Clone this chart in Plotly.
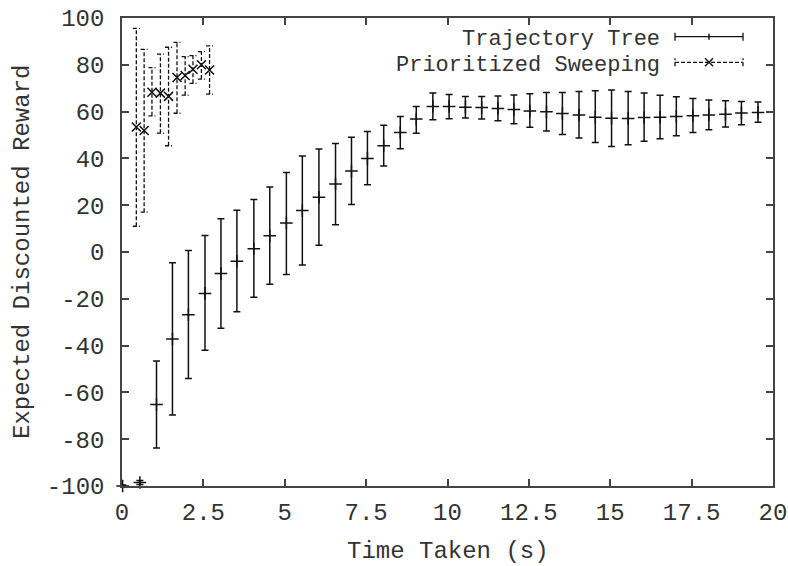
import plotly.graph_objects as go

# ---------------- data ----------------
tt_time = [0.02, 0.55, 1.06, 1.55, 2.04, 2.55, 3.04, 3.53, 4.05, 4.54,
           5.05, 5.54, 6.05, 6.56, 7.05, 7.54, 8.04, 8.55, 9.04, 9.55,
           10.05, 10.55, 11.05, 11.55, 12.04, 12.53, 13.04, 13.53, 14.04, 14.54,
           15.04, 15.55, 16.04, 16.53, 17.03, 17.54, 18.03, 18.54, 19.03, 19.54]
tt_mean = [-100.0, -98.5, -65.2, -37.2, -26.8, -17.7, -9.2, -3.9, 1.4, 6.9,
           12.4, 17.7, 23.4, 29.1, 34.6, 40.0, 45.4, 51.1, 56.8, 62.2,
           62.2, 61.9, 61.7, 61.3, 60.9, 60.3, 59.9, 59.2, 58.5, 57.6,
           57.2, 57.1, 57.5, 57.6, 57.9, 58.2, 58.6, 58.9, 59.4, 59.6]
tt_high = [-99.6, -97.6, -46.6, -4.6, 0.6, 7.0, 14.2, 17.8, 22.4, 27.8,
           34.0, 41.0, 44.0, 46.4, 49.0, 51.5, 54.2, 57.9, 62.2, 67.9,
           67.3, 66.4, 66.4, 66.7, 67.1, 67.6, 68.2, 68.2, 68.6, 68.9,
           69.2, 68.6, 67.9, 67.0, 66.3, 65.6, 65.0, 64.6, 64.3, 64.1]
tt_low = [-100.4, -99.4, -83.8, -69.7, -54.1, -42.0, -32.6, -25.5, -19.3, -13.8,
          -9.6, -5.6, 2.9, 11.6, 20.3, 28.7, 36.8, 44.1, 50.8, 56.5,
          56.9, 57.3, 56.8, 56.1, 54.8, 53.3, 51.7, 50.2, 48.7, 46.8,
          45.1, 45.8, 47.3, 48.4, 49.7, 51.1, 52.2, 53.4, 54.4, 55.4]

ps_time = [0.44, 0.68, 0.92, 1.18, 1.43, 1.69, 1.94, 2.18, 2.44, 2.69]
ps_mean = [53.4, 51.9, 68.3, 67.9, 66.5, 74.6, 75.4, 78.1, 80.0, 77.8]
ps_high = [95.6, 86.6, 78.8, 84.6, 87.5, 89.6, 83.5, 83.9, 85.6, 88.1]
ps_low = [11.0, 17.0, 58.2, 50.8, 45.4, 59.3, 67.0, 72.1, 73.9, 67.5]

series_names = ["Trajectory Tree", "Prioritized Sweeping"]
x_ticks = [0, 2.5, 5, 7.5, 10, 12.5, 15, 17.5, 20]
x_tick_labels = ["0", "2.5", "5", "7.5", "10", "12.5", "15", "17.5", "20"]
y_ticks = [-100, -80, -60, -40, -20, 0, 20, 40, 60, 80, 100]
y_tick_labels = ["-100", "-80", "-60", "-40", "-20", "0", "20", "40", "60", "80", "100"]
x_title = "Time Taken (s)"
y_title = "Expected Discounted Reward"

# ---------------- layout geometry ----------------
W, H = 788, 566
ML, MR, MT, MB = 122, 15, 18, 80
PW, PH = W - ML - MR, H - MT - MB
X_RANGE = [0, 20]
Y_RANGE = [-100, 100]
FONT = "Liberation Mono, Courier New, monospace"
FS = 24
KEY_FS = 22
INK = "#111111"
TXT = "#333333"
AXC = "#444444"


def px_to_paper(px, py):
    return (px - ML) / PW, (H - MB - py) / PH


cap_half = 3.5 * (X_RANGE[1] - X_RANGE[0]) / PW

fig = go.Figure()

# Trajectory Tree: solid error bars with "+" markers
fig.add_trace(go.Scatter(
    x=tt_time, y=tt_mean, mode="markers", name=series_names[0],
    marker=dict(symbol="cross-thin", size=9, color=INK,
                line=dict(width=1.5, color=INK)),
    error_y=dict(type="data", symmetric=False,
                 array=[h - m for h, m in zip(tt_high, tt_mean)],
                 arrayminus=[m - l for m, l in zip(tt_mean, tt_low)],
                 thickness=1.5, width=3.5, color=INK),
    cliponaxis=False, showlegend=False))

# Prioritized Sweeping: dashed error bars built from the data
bx, by = [], []
for t, lo, hi in zip(ps_time, ps_low, ps_high):
    bx += [t, t, None, t - cap_half, t + cap_half, None, t - cap_half, t + cap_half, None]
    by += [lo, hi, None, hi, hi, None, lo, lo, None]
fig.add_trace(go.Scatter(
    x=bx, y=by, mode="lines", line=dict(color=INK, width=1.3, dash="4px,2px"),
    hoverinfo="skip", showlegend=False))
fig.add_trace(go.Scatter(
    x=ps_time, y=ps_mean, mode="markers", name=series_names[1],
    marker=dict(symbol="x-thin", size=9, color=INK,
                line=dict(width=1.5, color=INK)),
    showlegend=False))

# ---------------- manual gnuplot-style key ----------------
shapes = []
annotations = []
key_rows = [(36.7, "solid", "plus"), (62.3, "4px,2px", "x")]
for (py, dash, mk), name in zip(key_rows, series_names):
    x0, y0 = px_to_paper(675, py)
    x1, _ = px_to_paper(743, py)
    xc, _ = px_to_paper(709, py)
    dy = 4 / PH
    dx = 4 / PW
    ln = dict(color=INK, width=1.3, dash=dash)
    shapes.append(dict(type="line", xref="paper", yref="paper", x0=x0, x1=x1, y0=y0, y1=y0, line=ln))
    shapes.append(dict(type="line", xref="paper", yref="paper", x0=x0, x1=x0, y0=y0 - dy, y1=y0 + dy, line=ln))
    shapes.append(dict(type="line", xref="paper", yref="paper", x0=x1, x1=x1, y0=y0 - dy, y1=y0 + dy, line=ln))
    solid = dict(color=INK, width=1.5)
    if mk == "plus":
        shapes.append(dict(type="line", xref="paper", yref="paper", x0=xc, x1=xc,
                           y0=y0 - 0.75 * dy, y1=y0 + 0.75 * dy, line=solid))
    else:
        shapes.append(dict(type="line", xref="paper", yref="paper", x0=xc - dx, x1=xc + dx,
                           y0=y0 - dy, y1=y0 + dy, line=solid))
        shapes.append(dict(type="line", xref="paper", yref="paper", x0=xc - dx, x1=xc + dx,
                           y0=y0 + dy, y1=y0 - dy, line=solid))
    tx, ty = px_to_paper(662, py + 3)
    annotations.append(dict(text=name, xref="paper", yref="paper", x=tx, y=ty,
                            xanchor="right", yanchor="middle", showarrow=False,
                            font=dict(family=FONT, size=KEY_FS, color=TXT)))

# axis titles
_, xt_y = px_to_paper(447.5, 551)
annotations.append(dict(text=x_title, xref="paper", yref="paper", x=0.5, y=xt_y,
                        xanchor="center", yanchor="middle", showarrow=False,
                        font=dict(family=FONT, size=FS, color=TXT)))
yt_x, _ = px_to_paper(22, 0)
annotations.append(dict(text=y_title, xref="paper", yref="paper", x=yt_x, y=0.5,
                        xanchor="center", yanchor="middle", showarrow=False, textangle=-90,
                        font=dict(family=FONT, size=FS, color=TXT)))

axis_common = dict(showline=True, linecolor=AXC, linewidth=1.5, mirror="ticks",
                   ticks="inside", ticklen=7, tickwidth=1.5, tickcolor=AXC,
                   showgrid=False, zeroline=False,
                   tickfont=dict(family=FONT, size=FS, color=TXT))

fig.update_layout(
    width=W, height=H, margin=dict(l=ML, r=MR, t=MT, b=MB, autoexpand=False),
    paper_bgcolor="white", plot_bgcolor="white",
    xaxis=dict(range=X_RANGE, tickvals=x_ticks, ticktext=x_tick_labels,
               ticklabelstandoff=3, **axis_common),
    yaxis=dict(range=Y_RANGE, tickvals=y_ticks, ticktext=y_tick_labels,
               ticklabelstandoff=11, **axis_common),
    shapes=shapes, annotations=annotations, showlegend=False,
)

fig.write_html("out.html")
